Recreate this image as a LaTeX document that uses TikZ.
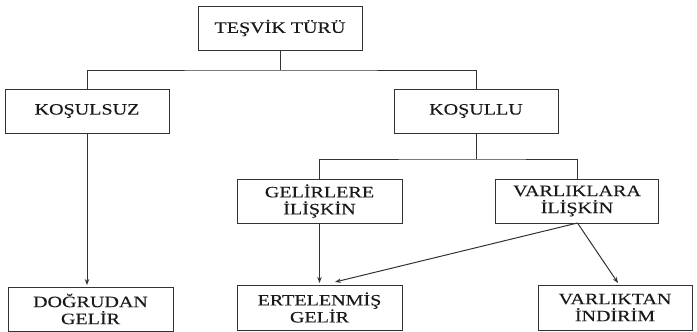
\documentclass[tikz,border=0pt]{standalone}
\usepackage{fontspec}
\setmainfont{Liberation Serif}[FakeStretch=1.27,FakeBold=0.15]
\usetikzlibrary{arrows.meta}
\definecolor{ink}{HTML}{1A1A1A}
\definecolor{wire}{HTML}{333333}
\begin{document}
\begin{tikzpicture}[x=1pt,y=-1pt,
  box/.style={draw=wire, line width=1pt, fill=white, inner sep=0pt,
    align=center, text=ink, font=\fontsize{15.8}{17}\selectfont},
  link/.style={draw=wire, line width=1pt},
  arr/.style={link, -{Stealth[length=6pt,width=4.5pt]}}]
\useasboundingbox (0,0) rectangle (697,332);
% level 0
\node[box, minimum width=164pt, minimum height=44pt] (top) at (280,28) {TEŞVİK TÜRÜ};
% level 1
\node[box, minimum width=164pt, minimum height=44pt] (kosulsuz) at (87,111) {KOŞULSUZ};
\node[box, minimum width=164pt, minimum height=44pt] (kosullu) at (476,111) {KOŞULLU};
% level 2
\node[box, minimum width=165pt, minimum height=44pt] (gelir) at (319.5,201) {GELİRLERE\\İLİŞKİN};
\node[box, minimum width=163pt, minimum height=44pt] (varlik) at (577,201) {VARLIKLARA\\İLİŞKİN};
% level 3
\node[box, minimum width=165pt, minimum height=44pt] (dogrudan) at (90.5,309) {DOĞRUDAN\\GELİR};
\node[box, minimum width=165pt, minimum height=45pt] (ertelenmis) at (319.5,307.5) {ERTELENMİŞ\\GELİR};
\node[box, minimum width=154pt, minimum height=45pt] (varliktan) at (615,307.5) {VARLIKTAN\\İNDİRİM};
% bus lines
\coordinate (bus1) at (280,70);
\coordinate (bus2) at (476,159);
\draw[link] (top.south) -- (bus1);
\draw[link] (kosulsuz.north) |- (bus1) -| (kosullu.north);
\draw[link] (kosullu.south) -- (bus2);
\draw[link] (gelir.north) |- (bus2) -| (varlik.north);
% arrows
\coordinate (t1) at (87,285);
\coordinate (t2) at (319.5,283);
\coordinate (t3) at (335,282);
\coordinate (t4) at (618,283);
\coordinate (v) at (577.5,223);
\draw[arr] (kosulsuz.south) -- (t1);
\draw[arr] (gelir.south) -- (t2);
\draw[arr] (v) -- (t3);
\draw[arr] (v) -- (t4);
\end{tikzpicture}
\end{document}
